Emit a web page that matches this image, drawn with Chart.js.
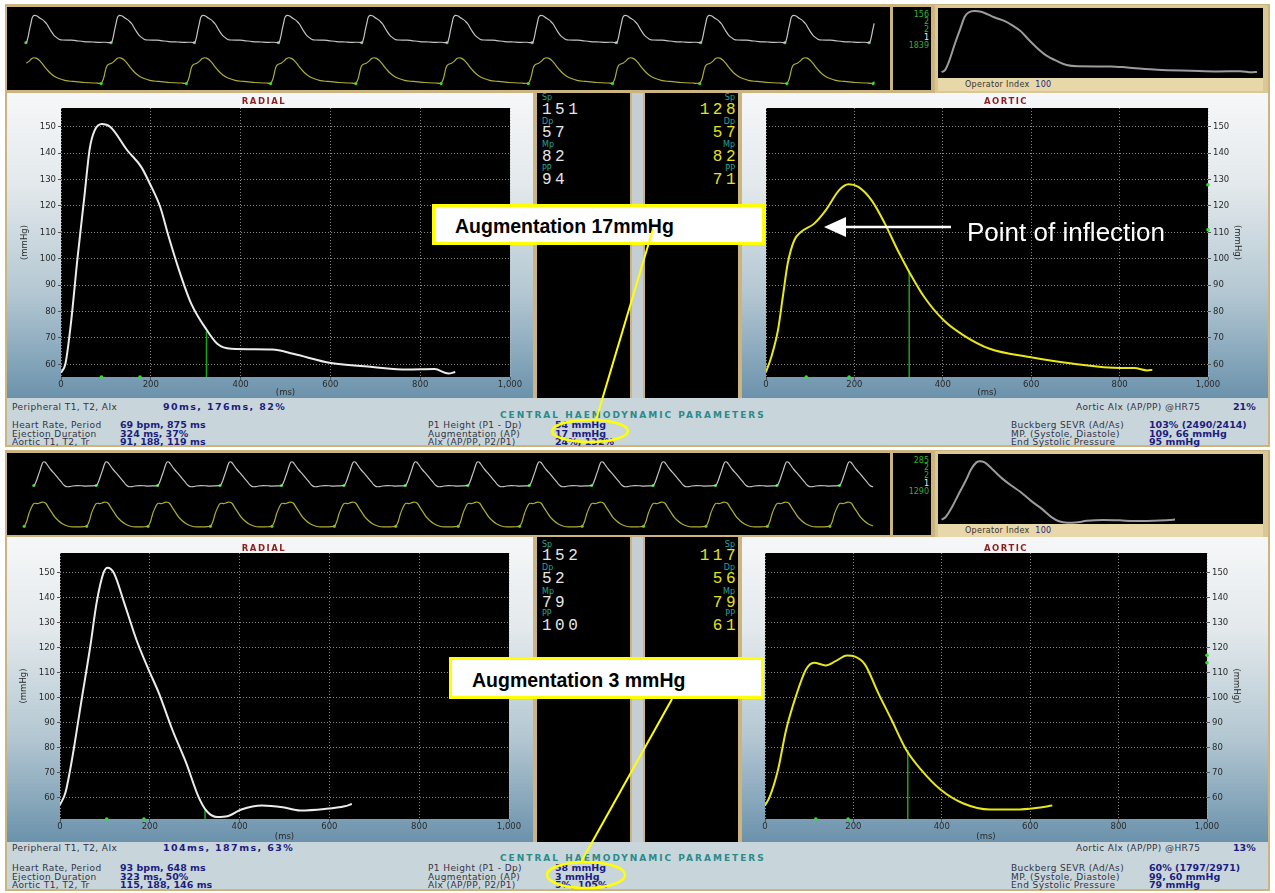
<!DOCTYPE html>
<html>
<head>
<meta charset="utf-8">
<script src="https://cdn.jsdelivr.net/npm/chart.js@4.4.1/dist/chart.umd.min.js"></script>
<style>
  body { margin:0; width:1275px; height:893px; background:#fff; position:relative; overflow:hidden; font-family:"DejaVu Sans", sans-serif; }
  div, canvas { position:absolute; }
  .frame { background:#ccb47f; }
  .black { background:#000; }
  .panel { background:linear-gradient(to bottom,#f6f7f8 0%,#e3e9ec 30%,#b3c7d2 66%,#6b92ac 100%); }
  .gap { background:#c5cfd3; }
  .info { background:#c8d6db; }
  .oplab { background:#e8d8a9; font:8px "DejaVu Sans"; color:#333; line-height:13px; padding-left:27px; box-sizing:border-box; letter-spacing:0.3px; white-space:pre; }
  .ttl { font:bold 8.5px "DejaVu Sans"; color:#8b1f1f; letter-spacing:1.5px; transform:translateX(-50%); white-space:nowrap; }
  .lb { font:9px "DejaVu Sans"; color:#333344; letter-spacing:0.4px; white-space:nowrap; line-height:10px; }
  .vl { font:bold 9.5px "DejaVu Sans"; color:#1d1d80; white-space:nowrap; line-height:10px; }
  .vw { letter-spacing:1.4px; }
  .chp { font:bold 9px "DejaVu Sans"; color:#2b8a8a; letter-spacing:2px; white-space:nowrap; line-height:10px; }
  .sm { font:8px "DejaVu Sans"; color:#2aa39d; line-height:9px; white-space:nowrap; }
  .big { font:16px "Liberation Mono", monospace; letter-spacing:3.5px; line-height:15px; white-space:nowrap; }
  .wt { color:#e6e6e6; }
  .yl { color:#e2e21e; }
  .r { text-align:right; }
  .nb { font:8px "DejaVu Sans"; color:#2fb02f; line-height:8px; text-align:right; width:36px; }
  .callout { background:#fff; border:3px solid #ffff00; box-sizing:border-box; font:bold 19.5px "Liberation Sans", Arial, sans-serif; color:#000; white-space:pre; }
  svg { position:absolute; left:0; top:0; }
</style>
</head>
<body>
<script>
// ---- 数据：主图中的脉搏波（时间 ms / 压力 mmHg） ----
const msTicks = [0, 200, 400, 600, 800, 1000];
const mmHgTicks = [60, 70, 80, 90, 100, 110, 120, 130, 140, 150];

// 上半部分
const radialTopMs   = [0, 10, 22, 37, 52, 64, 75, 91, 110, 148, 179, 198, 221, 240, 263, 290, 325, 348, 379, 471, 517, 601, 694, 770, 832, 863, 878];
const radialTopMmHg = [56.8, 60.3, 75.4, 100.6, 123.4, 141.7, 148.6, 151, 149.9, 141, 134.7, 128.4, 119.6, 108.2, 95.6, 83, 72.9, 67.8, 65.9, 65.6, 64, 60.5, 59, 58, 58.2, 56.5, 57.1];
const aorticTopMs   = [0, 12, 27, 38, 49, 64, 79, 109, 135, 165, 187, 209, 239, 269, 298, 324, 358, 402, 447, 506, 596, 692, 803, 833, 863, 874];
const aorticTopMmHg = [57.1, 62.8, 72.9, 85.5, 98.1, 107, 110.1, 113.3, 118.3, 125.9, 128.2, 127.2, 122.1, 113.3, 103.2, 95, 85.5, 76.7, 71, 65.9, 62.8, 60.3, 58.6, 58.6, 57.7, 57.9];

// 下半部分
const radialBotMs   = [0, 12, 28, 47, 67.5, 81.5, 97, 106, 120, 143, 170, 197, 220, 250, 281, 308, 327, 350, 373, 404, 450, 496, 535, 589, 634, 650];
const radialBotMmHg = [57, 61.8, 76.5, 97.9, 120.6, 138, 150.1, 152.1, 150, 138, 123.3, 111.3, 101.9, 87.2, 73.8, 60.4, 54.4, 52.1, 52.4, 55.1, 56.7, 56, 54.7, 55.3, 56.4, 57.3];
const aorticBotMs   = [0, 11, 29.5, 48, 70, 92.7, 111, 137, 159.5, 185.5, 204, 226, 256, 286, 319, 353, 397, 449, 509, 568, 613, 650];
const aorticBotMmHg = [56.7, 60.4, 71.1, 87.2, 100.6, 111.3, 114, 112.9, 114.6, 116.9, 116.4, 113.3, 101.9, 91.2, 79.2, 71.1, 63.1, 57.5, 55.1, 55.1, 55.7, 56.7];

// T1/T2 标记（ms）、射血结束（ms, mmHg）、主动脉 P1/P2（mmHg）
const radialTopT = [90, 176];
const aorticTopT = [91, 188];
const radialBotT = [104, 187];
const aorticBotT = [115, 188];
const radialTopEject = [324, 72.5];
const aorticTopEject = [324, 95];
const radialBotEject = [323, 55];
const aorticBotEject = [323, 79];
const aorticTopP = [128, 111];
const aorticBotP = [117, 114];

// 顶部条带：每个心搏的起点（ms）
const stripTopRadialOnsets = [155, 1040, 1906, 2781, 3646, 4532, 5418, 6293, 7169, 8044, 8920];
const stripTopAorticOnsets = [52, 937, 1823, 2699, 3584, 4470, 5377, 6252, 7159, 8065, 8961];
const stripBotRadialOnsets = [237, 886, 1524, 2173, 2812, 3461, 4099, 4748, 5387, 6036, 6674, 7323, 7962, 8611];
const stripBotAorticOnsets = [137, 786, 1424, 2073, 2712, 3361, 3999, 4648, 5287, 5936, 6574, 7223, 7862, 8511];
</script>

<!-- ===== 上半部分 ===== -->
<div class="frame" style="left:5px;top:4px;width:1265px;height:443px"></div>
<div class="black" style="left:7px;top:7px;width:883px;height:83px">
  <canvas id="stTopR" width="883" height="42" style="left:0;top:0"></canvas>
  <canvas id="stTopA" width="883" height="41" style="left:0;top:42px"></canvas>
</div>
<div class="black" style="left:893px;top:7px;width:38px;height:83px">
  <div class="nb" style="left:0;top:4px">156</div>
  <div class="nb" style="left:0;top:11px">2</div>
  <div class="nb" style="left:0;top:19px">2</div>
  <div class="nb" style="left:0;top:27px;color:#eee">1</div>
  <div class="nb" style="left:0;top:35px">1839</div>
</div>
<div style="left:935px;top:5px;width:333px;height:88px;background:#d9c796"></div>
<div class="black" style="left:938px;top:8px;width:325px;height:70px"><canvas id="ovTop" width="325" height="70" style="left:0;top:0"></canvas></div>
<div class="oplab" style="left:938px;top:78px;width:325px;height:13px">Operator Index  <span style="color:#1d1d80">100</span></div>

<div class="panel" style="left:7px;top:93px;width:526px;height:305px"><canvas id="radTop" width="526" height="305" style="left:0;top:0"></canvas></div>
<div class="ttl" style="left:264px;top:96px">RADIAL</div>
<div class="black" style="left:537px;top:93px;width:93px;height:305px">
  <div class="sm" style="left:5px;top:0px">Sp</div><div class="big wt" style="left:5px;top:10px">151</div>
  <div class="sm" style="left:5px;top:24px">Dp</div><div class="big wt" style="left:5px;top:33px">57</div>
  <div class="sm" style="left:5px;top:47px">Mp</div><div class="big wt" style="left:5px;top:57px">82</div>
  <div class="sm" style="left:5px;top:71px">PP</div><div class="big wt" style="left:5px;top:80px">94</div>
</div>
<div class="gap" style="left:632px;top:93px;width:11px;height:305px"></div>
<div class="black" style="left:645px;top:93px;width:93px;height:305px">
  <div class="sm r" style="right:3px;top:0px">Sp</div><div class="big yl r" style="right:-1px;top:10px">128</div>
  <div class="sm r" style="right:3px;top:24px">Dp</div><div class="big yl r" style="right:-1px;top:33px">57</div>
  <div class="sm r" style="right:3px;top:47px">Mp</div><div class="big yl r" style="right:-1px;top:57px">82</div>
  <div class="sm r" style="right:3px;top:71px">PP</div><div class="big yl r" style="right:-1px;top:80px">71</div>
</div>
<div class="panel" style="left:742px;top:93px;width:526px;height:305px"><canvas id="aorTop" width="526" height="305" style="left:0;top:0"></canvas></div>
<div class="ttl" style="left:1006px;top:96px">AORTIC</div>

<div class="info" style="left:7px;top:398px;width:1261px;height:47px"></div>
<div class="lb" style="left:12px;top:402px">Peripheral T1, T2, AIx</div><div class="vl vw" style="left:163px;top:402px">90ms, 176ms, 82%</div>
<div class="lb" style="left:1076px;top:402px">Aortic AIx (AP/PP) @HR75</div><div class="vl" style="left:1233px;top:402px">21%</div>
<div class="chp" style="left:500px;top:410px">CENTRAL HAEMODYNAMIC PARAMETERS</div>
<div class="lb" style="left:12px;top:420px">Heart Rate, Period</div><div class="vl" style="left:120px;top:420px">69 bpm, 875 ms</div>
<div class="lb" style="left:12px;top:428.5px">Ejection Duration</div><div class="vl" style="left:120px;top:428.5px">324 ms, 37%</div>
<div class="lb" style="left:12px;top:437px">Aortic T1, T2, Tr</div><div class="vl" style="left:120px;top:437px">91, 188, 119 ms</div>
<div class="lb" style="left:428px;top:420px">P1 Height (P1 - Dp)</div><div class="vl" style="left:555px;top:420px">54 mmHg</div>
<div class="lb" style="left:428px;top:428.5px">Augmentation (AP)</div><div class="vl" style="left:555px;top:428.5px">17 mmHg</div>
<div class="lb" style="left:428px;top:437px">AIx (AP/PP, P2/P1)</div><div class="vl" style="left:555px;top:437px">24%, 132%</div>
<div class="lb" style="left:1011px;top:420px">Buckberg SEVR (Ad/As)</div><div class="vl" style="left:1149px;top:420px">103% (2490/2414)</div>
<div class="lb" style="left:1011px;top:428.5px">MP. (Systole, Diastole)</div><div class="vl" style="left:1149px;top:428.5px">109, 66 mmHg</div>
<div class="lb" style="left:1011px;top:437px">End Systolic Pressure</div><div class="vl" style="left:1149px;top:437px">95 mmHg</div>

<!-- ===== 下半部分 ===== -->
<div class="frame" style="left:5px;top:450px;width:1265px;height:441px"></div>
<div class="black" style="left:7px;top:453px;width:883px;height:82px">
  <canvas id="stBotR" width="883" height="41" style="left:0;top:0"></canvas>
  <canvas id="stBotA" width="883" height="41" style="left:0;top:41px"></canvas>
</div>
<div class="black" style="left:893px;top:453px;width:38px;height:82px">
  <div class="nb" style="left:0;top:4px">285</div>
  <div class="nb" style="left:0;top:11px">2</div>
  <div class="nb" style="left:0;top:19px">2</div>
  <div class="nb" style="left:0;top:27px;color:#eee">1</div>
  <div class="nb" style="left:0;top:35px">1290</div>
</div>
<div style="left:935px;top:451px;width:333px;height:88px;background:#d9c796"></div>
<div class="black" style="left:938px;top:454px;width:325px;height:70px"><canvas id="ovBot" width="325" height="70" style="left:0;top:0"></canvas></div>
<div class="oplab" style="left:938px;top:524px;width:325px;height:13px">Operator Index  <span style="color:#1d1d80">100</span></div>

<div class="panel" style="left:7px;top:537px;width:526px;height:305px"><canvas id="radBot" width="526" height="305" style="left:0;top:0"></canvas></div>
<div class="ttl" style="left:264px;top:543px">RADIAL</div>
<div class="black" style="left:537px;top:537px;width:93px;height:305px">
  <div class="sm" style="left:5px;top:3px">Sp</div><div class="big wt" style="left:5px;top:12px">152</div>
  <div class="sm" style="left:5px;top:26px">Dp</div><div class="big wt" style="left:5px;top:35px">52</div>
  <div class="sm" style="left:5px;top:50px">Mp</div><div class="big wt" style="left:5px;top:59px">79</div>
  <div class="sm" style="left:5px;top:72px">PP</div><div class="big wt" style="left:5px;top:82px">100</div>
</div>
<div class="gap" style="left:632px;top:537px;width:11px;height:305px"></div>
<div class="black" style="left:645px;top:537px;width:93px;height:305px">
  <div class="sm r" style="right:3px;top:3px">Sp</div><div class="big yl r" style="right:-1px;top:12px">117</div>
  <div class="sm r" style="right:3px;top:26px">Dp</div><div class="big yl r" style="right:-1px;top:35px">56</div>
  <div class="sm r" style="right:3px;top:50px">Mp</div><div class="big yl r" style="right:-1px;top:59px">79</div>
  <div class="sm r" style="right:3px;top:72px">PP</div><div class="big yl r" style="right:-1px;top:82px">61</div>
</div>
<div class="panel" style="left:742px;top:537px;width:526px;height:305px"><canvas id="aorBot" width="526" height="305" style="left:0;top:0"></canvas></div>
<div class="ttl" style="left:1006px;top:543px">AORTIC</div>

<div class="info" style="left:7px;top:842px;width:1261px;height:47px"></div>
<div class="lb" style="left:12px;top:843px">Peripheral T1, T2, AIx</div><div class="vl vw" style="left:163px;top:843px">104ms, 187ms, 63%</div>
<div class="lb" style="left:1076px;top:843px">Aortic AIx (AP/PP) @HR75</div><div class="vl" style="left:1233px;top:843px">13%</div>
<div class="chp" style="left:500px;top:853px">CENTRAL HAEMODYNAMIC PARAMETERS</div>
<div class="lb" style="left:12px;top:863px">Heart Rate, Period</div><div class="vl" style="left:120px;top:863px">93 bpm, 648 ms</div>
<div class="lb" style="left:12px;top:871.5px">Ejection Duration</div><div class="vl" style="left:120px;top:871.5px">323 ms, 50%</div>
<div class="lb" style="left:12px;top:880px">Aortic T1, T2, Tr</div><div class="vl" style="left:120px;top:880px">115, 188, 146 ms</div>
<div class="lb" style="left:428px;top:863px">P1 Height (P1 - Dp)</div><div class="vl" style="left:555px;top:863px">58 mmHg</div>
<div class="lb" style="left:428px;top:871.5px">Augmentation (AP)</div><div class="vl" style="left:555px;top:871.5px">3 mmHg</div>
<div class="lb" style="left:428px;top:880px">AIx (AP/PP, P2/P1)</div><div class="vl" style="left:555px;top:880px">5%, 105%</div>
<div class="lb" style="left:1011px;top:863px">Buckberg SEVR (Ad/As)</div><div class="vl" style="left:1149px;top:863px">60% (1797/2971)</div>
<div class="lb" style="left:1011px;top:871.5px">MP. (Systole, Diastole)</div><div class="vl" style="left:1149px;top:871.5px">99, 60 mmHg</div>
<div class="lb" style="left:1011px;top:880px">End Systolic Pressure</div><div class="vl" style="left:1149px;top:880px">79 mmHg</div>

<!-- 注释框 -->
<div class="callout" style="left:432px;top:204px;width:333px;height:41px;padding:8px 0 0 20px">Augmentation 17mmHg</div>
<div class="callout" style="left:449px;top:657px;width:315px;height:42px;padding:9px 0 0 20px">Augmentation 3 mmHg</div>
<svg width="1275" height="893">
  <line x1="653" y1="229" x2="596" y2="420" stroke="#ffff00" stroke-width="2"/>
  <ellipse cx="590" cy="431" rx="38" ry="11" fill="none" stroke="#ffff00" stroke-width="2.5"/>
  <line x1="672" y1="699" x2="581" y2="862" stroke="#ffff00" stroke-width="2"/>
  <ellipse cx="586" cy="875" rx="39" ry="13" fill="none" stroke="#ffff00" stroke-width="2.5"/>
  <line x1="951" y1="227" x2="843" y2="227" stroke="#fff" stroke-width="2.5"/>
  <polygon points="824,227 846,217 846,237" fill="#fff"/>
  <text x="967" y="241" fill="#fff" font-family="Liberation Sans, Arial, sans-serif" font-size="26">Point of inflection</text>
</svg>

<script>
Chart.defaults.font.family = '"DejaVu Sans", sans-serif';

// 在绘图区域画黑色背景
const blackArea = {
  id: 'blackArea',
  beforeDraw(chart) {
    const a = chart.chartArea, ctx = chart.ctx;
    ctx.save();
    ctx.fillStyle = '#000';
    ctx.fillRect(a.left, a.top, a.right - a.left, a.bottom - a.top);
    ctx.restore();
  }
};

const toPts = (xs, ys) => xs.map((x, i) => ({ x, y: ys[i] }));

// 主波形图（RADIAL / AORTIC）
function waveChart(id, o) {
  const marks = o.t.map(x => ({ x, y: o.yr[0] })).concat((o.p || []).map(y => ({ x: 1000, y })));
  return new Chart(document.getElementById(id), {
    type: 'line',
    data: {
      datasets: [
        { data: toPts(o.ms, o.mmHg), borderColor: o.color, borderWidth: 2, pointRadius: 0, cubicInterpolationMode: 'monotone' },
        { data: [{ x: o.ej[0], y: o.yr[0] }, { x: o.ej[0], y: o.ej[1] }], borderColor: '#1aa31a', borderWidth: 1.5, pointRadius: 0 },
        { data: marks, showLine: false, pointRadius: 1.8, pointBackgroundColor: '#30e030', borderColor: '#30e030', pointBorderWidth: 0, clip: 4 }
      ]
    },
    options: {
      animation: false, responsive: false, events: [],
      layout: { padding: o.pad },
      plugins: { legend: { display: false }, tooltip: { enabled: false } },
      scales: {
        x: {
          type: 'linear', min: 0, max: 1000,
          afterBuildTicks: s => { s.ticks = msTicks.map(v => ({ value: v })); },
          ticks: { color: '#2a2a2a', font: { size: 8.5 }, padding: 0, maxRotation: 0 },
          grid: { color: 'rgba(190,190,190,0.7)', tickColor: '#555', tickLength: 3 },
          border: { display: false, dash: [1, 2] },
          title: { display: true, text: '(ms)', color: '#2a2a2a', font: { size: 8.5 }, padding: 0 },
          afterFit: s => { s.height = o.xh; }
        },
        y: {
          type: 'linear', position: o.side, min: o.yr[0], max: o.yr[1],
          afterBuildTicks: s => { s.ticks = mmHgTicks.map(v => ({ value: v })); },
          ticks: { color: '#2a2a2a', font: { size: 8.5 }, padding: 2 },
          grid: { color: 'rgba(190,190,190,0.7)', tickColor: '#555', tickLength: 3 },
          border: { display: false, dash: [1, 2] },
          title: { display: true, text: '(mmHg)', color: '#2a2a2a', font: { size: 8.5 }, padding: 0 },
          afterFit: s => { s.width = o.yw; }
        }
      }
    },
    plugins: [blackArea]
  });
}

// 条带和缩略图：无坐标轴的纯曲线
function traceChart(id, sets, xr, yr) {
  return new Chart(document.getElementById(id), {
    type: 'line',
    data: { datasets: sets },
    options: {
      animation: false, responsive: false, events: [],
      layout: { padding: 0 },
      plugins: { legend: { display: false }, tooltip: { enabled: false } },
      scales: {
        x: { type: 'linear', display: false, min: xr[0], max: xr[1] },
        y: { type: 'linear', display: false, min: yr[0], max: yr[1] }
      }
    }
  });
}

// 把一个心搏的波形放到每个起点上（到下一个起点为止）
function beats(onsets, ms, mmHg, startMs, endMs) {
  const pts = [];
  onsets.forEach((t0, k) => {
    const next = k + 1 < onsets.length ? onsets[k + 1] : Infinity;
    ms.forEach((t, i) => {
      const x = t0 + t;
      if (x < next && x >= startMs && x <= endMs) pts.push({ x, y: mmHg[i] });
    });
  });
  return pts;
}
const feet = (onsets, base, startMs) => onsets.filter(t => t >= startMs).map(x => ({ x, y: base }));

function stripSets(onsets, ms, mmHg, color, startMs, endMs) {
  return [
    { data: beats(onsets, ms, mmHg, startMs, endMs), borderColor: color, borderWidth: 1.2, pointRadius: 0, cubicInterpolationMode: 'monotone' },
    { data: feet(onsets, mmHg[0], startMs), showLine: false, pointRadius: 1.6, pointBackgroundColor: '#22e022', pointBorderWidth: 0, borderColor: '#22e022' }
  ];
}

const stripRange = [0, 9095];
const thumbLine = (ms, mmHg) => [{ data: toPts(ms, mmHg), borderColor: '#9c9c9c', borderWidth: 2, pointRadius: 0, cubicInterpolationMode: 'monotone' }];

// 上半部分
traceChart('stTopR', stripSets(stripTopRadialOnsets, radialTopMs, radialTopMmHg, '#c4c4c4', 0, 8975), stripRange, [48.6, 166.4]);
traceChart('stTopA', stripSets(stripTopAorticOnsets, aorticTopMs, aorticTopMmHg, '#adad36', 134, 8975), stripRange, [50.3, 141.3]);
traceChart('ovTop', thumbLine(radialTopMs, radialTopMmHg), [-10, 895], [47.8, 155.6]);

waveChart('radTop', { ms: radialTopMs, mmHg: radialTopMmHg, color: '#ececec', t: radialTopT, ej: radialTopEject,
  yr: [55.2, 157.1], side: 'left', pad: { left: 13, top: 15, right: 23, bottom: 0 }, yw: 41, xh: 21 });
waveChart('aorTop', { ms: aorticTopMs, mmHg: aorticTopMmHg, color: '#e8e817', t: aorticTopT, p: aorticTopP, ej: aorticTopEject,
  yr: [55.2, 157.1], side: 'right', pad: { left: 24, top: 15, right: 26, bottom: 0 }, yw: 34, xh: 21 });

// 下半部分
traceChart('stBotR', stripSets(stripBotRadialOnsets, radialBotMs, radialBotMmHg, '#c4c4c4', 0, 8975), stripRange, [39, 171]);
traceChart('stBotA', stripSets(stripBotAorticOnsets, aorticBotMs, aorticBotMmHg, '#adad36', 0, 8975), stripRange, [45, 127]);
traceChart('ovBot', thumbLine(radialBotMs, radialBotMmHg), [-10, 895], [50, 163.7]);

waveChart('radBot', { ms: radialBotMs, mmHg: radialBotMmHg, color: '#ececec', t: radialBotT, ej: radialBotEject,
  yr: [51.3, 158], side: 'left', pad: { left: 12, top: 16, right: 24, bottom: 0 }, yw: 41, xh: 23 });
waveChart('aorBot', { ms: aorticBotMs, mmHg: aorticBotMmHg, color: '#e8e817', t: aorticBotT, p: aorticBotP, ej: aorticBotEject,
  yr: [51.3, 158], side: 'right', pad: { left: 23, top: 16, right: 27, bottom: 0 }, yw: 34, xh: 23 });
</script>
</body>
</html>
